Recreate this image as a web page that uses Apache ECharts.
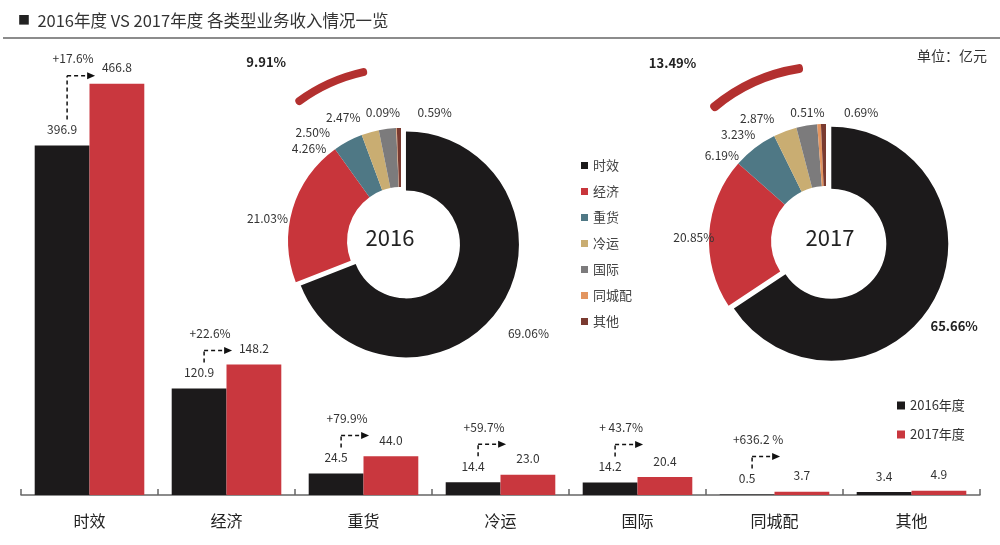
<!DOCTYPE html>
<html>
<head>
<meta charset="utf-8">
<title>2016年度 VS 2017年度 各类型业务收入情况一览</title>
<script src="https://cdn.jsdelivr.net/npm/echarts@6/dist/echarts.min.js"></script>
<style>
  html, body { margin: 0; padding: 0; background: #fff; }
  #main { width: 1000px; height: 545px; }
</style>
</head>
<body>
<div id="main"></div>
<script>
// data (unit: 亿元)
const categories = ['时效', '经济', '重货', '冷运', '国际', '同城配', '其他'];
const yearNames = ['2016年度', '2017年度'];
const rev2016 = [396.9, 120.9, 24.5, 14.4, 14.2, 0.5, 3.4];
const rev2017 = [466.8, 148.2, 44.0, 23.0, 20.4, 3.7, 4.9];
const growth = ['+17.6%', '+22.6%', '+79.9%', '+59.7%', '+ 43.7%', '+636.2 %', ''];
const share2016 = [69.06, 21.03, 4.26, 2.50, 2.47, 0.09, 0.59];
const share2017 = [65.66, 20.85, 6.19, 3.23, 2.87, 0.51, 0.69];

// styles / layout
const FONT = '"Noto Sans CJK SC", "Noto Sans", sans-serif';
const barColors = ['#1c1a1b', '#c9373e'];
const sliceColors = ['#1c1a1b', '#c8353b', '#4f7885', '#c9ad72', '#7c7b7c', '#e39560', '#7a3a30'];
const arcColor = '#b3302f';
const pie16 = [401, 241];
const pie17 = [826, 241];
const arcMid = 114.3;          // degrees, where the highlight arc is centred
const arcSpan16 = 26;          // visual length of the highlight arcs (deg)
const arcSpan17 = 33.4;

// label nudges for the crowded donut labels
const shift16 = [[-3, 21], [8, 12], [-13, 14], [-33, 8], [-21, -3], [9, -8], [58, -8]];
const shift17 = [[-16, 23], [18, 5], [-6, 14], [-22, 11], [-26, 1], [11, -4], [60, -4]];

let chart = echarts.init(document.getElementById('main'));

function sumSmall(arr) {
    return arr.slice(2).reduce((a, b) => a + b, 0);
}

function donut(shares, center, radius, shift, boldFirst) {
    return {
        type: 'pie',
        center: center,
        radius: radius,
        startAngle: 90,
        selectedMode: 'single',
        selectedOffset: 6,
        avoidLabelOverlap: false,
        silent: true,
        label: {
            show: true,
            position: 'outside',
            color: '#333',
            fontSize: 12,
            fontFamily: FONT,
            formatter: p => shares[p.dataIndex].toFixed(2) + '%'
        },
        labelLine: { show: false, length: 8, length2: 0 },
        labelLayout: p => ({ dx: shift[p.dataIndex][0], dy: shift[p.dataIndex][1] }),
        data: categories.map((name, i) => ({
            name: name,
            value: shares[i],
            selected: i === 0,
            itemStyle: { color: sliceColors[i] },
            label: (boldFirst && i === 0) ? { fontWeight: 'bold', fontSize: 13, color: '#222' } : {}
        }))
    };
}

// thick red arc above each donut, labelled with the share of the small segments
function arc(shares, center, radius, span, dx, dy) {
    const small = sumSmall(shares);
    const part = span / 3.6;
    return {
        type: 'pie',
        center: center,
        radius: radius,
        startAngle: arcMid + span / 2,
        silent: true,
        label: { show: false },
        labelLine: { show: false, length: 5, length2: 0 },
        labelLayout: { dx: dx, dy: dy },
        data: [
            {
                name: 'small',
                value: part,
                itemStyle: { color: arcColor, borderRadius: 4 },
                label: {
                    show: true,
                    position: 'outside',
                    formatter: small.toFixed(2) + '%',
                    fontSize: 13,
                    fontWeight: 'bold',
                    color: '#222',
                    fontFamily: FONT
                }
            },
            { name: 'rest', value: 100 - part, itemStyle: { color: 'rgba(0,0,0,0)' } }
        ]
    };
}

// dashed elbow arrows with growth rates, placed with the bar axis scales
function renderGrowth(params, api) {
    const i = api.value(0);
    const band = api.size([1, 0])[0];
    const base = api.coord([i, 0]);
    const y16 = api.coord([i, api.value(1)])[1];
    const y17 = api.coord([i, api.value(2)])[1];
    const x = base[0] - band * 0.2 + 5;
    const yStart = y16 - 26;
    const yH = Math.min(y16 - 38, y17 - 8);
    const dash = { stroke: '#111', lineWidth: 1.5, lineDash: [4, 3] };
    return {
        type: 'group',
        children: [
            { type: 'line', shape: { x1: x, y1: yStart, x2: x, y2: yH }, style: dash },
            { type: 'line', shape: { x1: x, y1: yH, x2: x + 21, y2: yH }, style: dash },
            {
                type: 'polygon',
                shape: { points: [[x + 20, yH - 3.5], [x + 28, yH], [x + 20, yH + 3.5]] },
                style: { fill: '#111' }
            },
            {
                type: 'text',
                x: x + 6,
                y: yH - 17,
                style: {
                    text: growth[i],
                    fill: '#333',
                    fontSize: 12,
                    fontFamily: FONT,
                    align: 'center',
                    verticalAlign: 'middle'
                }
            }
        ]
    };
}

const growthData = categories
    .map((c, i) => [i, rev2016[i], rev2017[i]])
    .filter(d => growth[d[0]] !== '');

let option = {
    animation: false,
    textStyle: { fontFamily: FONT },
    title: [
        {
            text: '{sq|■}  2016年度 VS 2017年度 各类型业务收入情况一览',
            left: 13,
            top: 7,
            textStyle: {
                fontSize: 16.5, fontWeight: 'normal', color: '#333', fontFamily: FONT,
                rich: { sq: { fontSize: 12, color: '#222', fontFamily: FONT } }
            }
        },
        {
            text: '单位：亿元',
            right: 8,
            top: 44,
            textStyle: { fontSize: 14, fontWeight: 'normal', color: '#333', fontFamily: FONT }
        }
    ],
    graphic: [
        { type: 'line', shape: { x1: 3, y1: 38, x2: 1000, y2: 38 }, style: { stroke: '#8c8c8c', lineWidth: 2 } },
        {
            type: 'text', x: 390, y: 238,
            style: { text: '2016', fontSize: 22, fill: '#222', fontFamily: FONT, align: 'center', verticalAlign: 'middle' }
        },
        {
            type: 'text', x: 830, y: 238,
            style: { text: '2017', fontSize: 22, fill: '#222', fontFamily: FONT, align: 'center', verticalAlign: 'middle' }
        }
    ],
    legend: [
        {
            data: yearNames,
            orient: 'vertical',
            left: 892,
            top: 394,
            itemWidth: 8,
            itemHeight: 8,
            itemGap: 16,
            icon: 'rect',
            textStyle: { fontSize: 13, color: '#333', fontFamily: FONT }
        },
        {
            data: categories,
            orient: 'vertical',
            left: 576,
            top: 154,
            itemWidth: 7,
            itemHeight: 7,
            itemGap: 13,
            icon: 'rect',
            textStyle: { fontSize: 13, color: '#444', fontFamily: FONT }
        }
    ],
    grid: { left: 21, right: 20, top: 37, bottom: 50 },
    xAxis: {
        type: 'category',
        data: categories,
        axisLine: { lineStyle: { color: '#666', width: 1.5 } },
        axisTick: { show: true, inside: true, length: 6, lineStyle: { color: '#666', width: 1.5 } },
        axisLabel: { fontSize: 16, color: '#222', margin: 18, fontFamily: FONT }
    },
    yAxis: {
        type: 'value',
        min: 0,
        max: 520,
        show: false,
        splitLine: { show: false }
    },
    series: [
        {
            name: yearNames[0],
            type: 'bar',
            data: rev2016,
            barGap: '0%',
            barCategoryGap: '20%',
            itemStyle: { color: barColors[0] },
            label: {
                show: true, position: 'top', distance: 10,
                fontSize: 12, color: '#333', fontFamily: FONT,
                formatter: p => p.value.toFixed(1)
            }
        },
        {
            name: yearNames[1],
            type: 'bar',
            data: rev2017,
            barGap: '0%',
            barCategoryGap: '20%',
            itemStyle: { color: barColors[1] },
            label: {
                show: true, position: 'top', distance: 10,
                fontSize: 12, color: '#333', fontFamily: FONT,
                formatter: p => p.value.toFixed(1)
            }
        },
        {
            type: 'custom',
            renderItem: renderGrowth,
            data: growthData,
            silent: true,
            z: 5
        },
        donut(share2016, pie16, [54, 113], shift16, false),
        donut(share2017, pie17, [55, 117], shift17, true),
        arc(share2016, pie16, [169, 177], arcSpan16, -35, -13),
        arc(share2017, pie17, [170, 179], arcSpan17, -49, -10)
    ]
};

option && chart.setOption(option);
</script>
</body>
</html>
